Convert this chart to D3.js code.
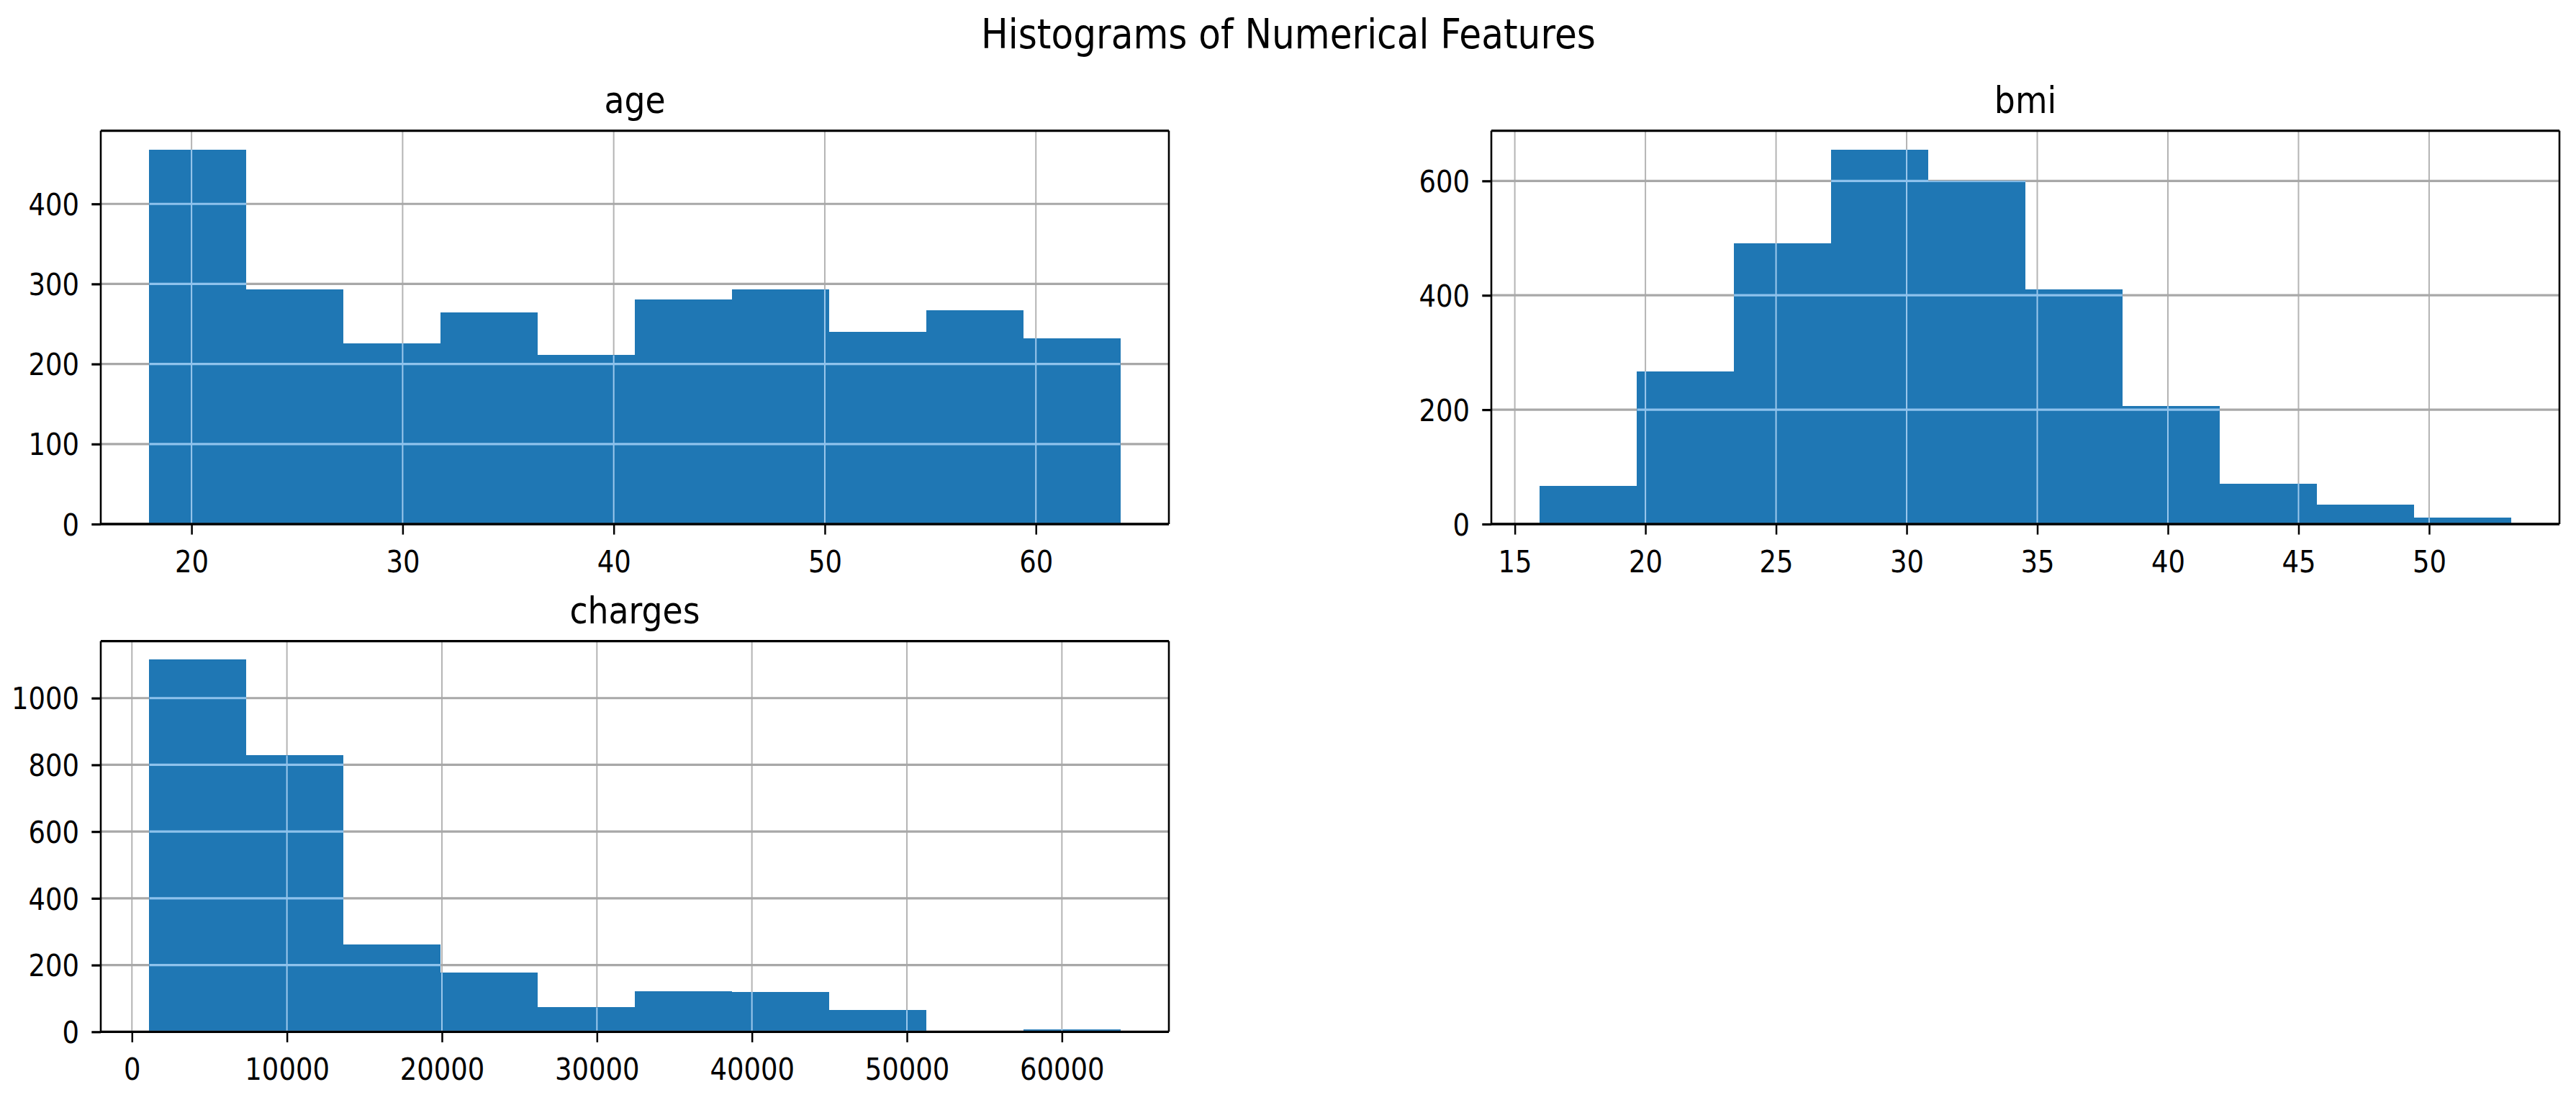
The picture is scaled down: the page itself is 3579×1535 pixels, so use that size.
<!DOCTYPE html>
<html>
<head>
<meta charset="utf-8">
<script src="https://cdn.jsdelivr.net/npm/d3@7"></script>
<style>
  body { margin: 0; background: #fff; }
  text { font-family: "DejaVu Sans", sans-serif; fill: #000; }
</style>
</head>
<body>
<script>
// histogram bin edges and counts
var ageEdges = [18, 22.6, 27.2, 31.8, 36.4, 41, 45.6, 50.2, 54.8, 59.4, 64];
var ageCounts = [468, 293, 226, 264, 211, 281, 293, 240, 267, 232];

var bmiEdges = [15.96, 19.68, 23.39, 27.11, 30.83, 34.55, 38.26, 41.98, 45.70, 49.41, 53.13];
var bmiCounts = [67, 267, 491, 655, 600, 410, 206, 71, 34, 11];

var chargesEdges = [1122, 7387, 13652, 19916, 26181, 32446, 38711, 44976, 51241, 57506, 63770];
var chargesCounts = [1115, 828, 262, 177, 73, 121, 120, 65, 0, 8];

// tick values
var ageXTicks = [20, 30, 40, 50, 60];
var ageYTicks = [0, 100, 200, 300, 400];
var bmiXTicks = [15, 20, 25, 30, 35, 40, 45, 50];
var bmiYTicks = [0, 200, 400, 600];
var chargesXTicks = [0, 10000, 20000, 30000, 40000, 50000, 60000];
var chargesYTicks = [0, 200, 400, 600, 800, 1000];

var W = 3579, H = 1535;
var SX = 0.88;   // the original picture is squeezed horizontally

var panels = [
    {name: 'age', edges: ageEdges, counts: ageCounts, xTicks: ageXTicks, yTicks: ageYTicks,
     left: 140, top: 181.6, width: 1484, height: 546.4},
    {name: 'bmi', edges: bmiEdges, counts: bmiCounts, xTicks: bmiXTicks, yTicks: bmiYTicks,
     left: 2072, top: 181.6, width: 1484, height: 546.4},
    {name: 'charges', edges: chargesEdges, counts: chargesCounts, xTicks: chargesXTicks, yTicks: chargesYTicks,
     left: 140, top: 890.6, width: 1484, height: 542.7}
];

var svg = d3.select('body')
    .append('svg')
    .attr('width', W)
    .attr('height', H);

svg.append('rect')
    .attr('width', W)
    .attr('height', H)
    .attr('fill', '#fff');

function label(parent, x, y, txt, size) {
    parent.append('g')
        .attr('transform', 'translate(' + x + ',' + y + ') scale(' + SX + ',1)')
        .append('text')
        .attr('text-anchor', 'middle')
        .style('font-size', size + 'px')
        .text(txt);
}

label(svg, 1790, 67, 'Histograms of Numerical Features', 57);

panels.forEach(function(p, k) {
    var lo = p.edges[0], hi = p.edges[p.edges.length - 1];
    var pad = (hi - lo) * 0.05;
    var x = d3.scaleLinear()
        .domain([lo - pad, hi + pad])
        .range([0, p.width]);
    var y = d3.scaleLinear()
        .domain([0, d3.max(p.counts) * 1.05])
        .range([p.height, 0]);

    var bins = p.counts.map(function(c, i) {
        return {x0: p.edges[i], x1: p.edges[i + 1], n: c};
    });

    var g = svg.append('g')
        .attr('transform', 'translate(' + p.left + ',' + p.top + ')');

    function grid(sel, vColor, hColor) {
        sel.selectAll('line.v')
            .data(p.xTicks)
            .enter().append('line')
            .attr('class', 'v')
            .attr('x1', function(d) { return x(d); })
            .attr('x2', function(d) { return x(d); })
            .attr('y1', 0)
            .attr('y2', p.height)
            .attr('stroke', vColor)
            .attr('stroke-width', 2);
        sel.selectAll('line.h')
            .data(p.yTicks)
            .enter().append('line')
            .attr('class', 'h')
            .attr('x1', 0)
            .attr('x2', p.width)
            .attr('y1', function(d) { return y(d); })
            .attr('y2', function(d) { return y(d); })
            .attr('stroke', hColor)
            .attr('stroke-width', 3.2);
    }

    grid(g.append('g'), '#b4b4b4', '#a8a8a8');

    function bars(sel) {
        sel.selectAll('rect')
            .data(bins)
            .enter().append('rect')
            .attr('x', function(d) { return x(d.x0); })
            .attr('y', function(d) { return y(d.n); })
            .attr('width', function(d) { return x(d.x1) - x(d.x0); })
            .attr('height', function(d) { return p.height - y(d.n); })
            .attr('shape-rendering', 'crispEdges');
    }

    bars(g.append('g').attr('fill', '#1f77b4'));

    // grid lines seen through the bars look light blue
    var clipId = 'bars-' + k;
    bars(g.append('clipPath').attr('id', clipId));
    grid(g.append('g').attr('clip-path', 'url(#' + clipId + ')'), '#9cc8ec', '#8ec2ec');

    var x_axis = d3.axisBottom(x)
        .tickValues(p.xTicks)
        .tickSize(14.6)
        .tickFormat(d3.format('d'));
    var xg = g.append('g')
        .attr('transform', 'translate(0,' + p.height + ')')
        .call(x_axis);
    xg.select('.domain').remove();
    xg.selectAll('.tick line').attr('stroke', '#000').attr('stroke-width', 2.5);
    xg.selectAll('.tick text')
        .attr('y', 67)
        .attr('dy', 0)
        .attr('transform', 'scale(' + SX + ',1)')
        .style('font-size', '42px')
        .attr('fill', '#000');

    var y_axis = d3.axisLeft(y)
        .tickValues(p.yTicks)
        .tickSize(12.7)
        .tickFormat(d3.format('d'));
    var yg = g.append('g').call(y_axis);
    yg.select('.domain').remove();
    yg.selectAll('.tick line').attr('stroke', '#000').attr('stroke-width', 3.2);
    yg.selectAll('.tick text')
        .attr('x', -30 / SX)
        .attr('dy', '0.36em')
        .attr('transform', 'scale(' + SX + ',1)')
        .style('font-size', '42px')
        .attr('fill', '#000');

    // frame
    g.append('line').attr('x1', 0).attr('x2', p.width).attr('y1', 0).attr('y2', 0)
        .attr('stroke', '#000').attr('stroke-width', 3.3);
    g.append('line').attr('x1', 0).attr('x2', p.width).attr('y1', p.height).attr('y2', p.height)
        .attr('stroke', '#000').attr('stroke-width', 3.3);
    g.append('line').attr('x1', 0).attr('x2', 0).attr('y1', 0).attr('y2', p.height)
        .attr('stroke', '#000').attr('stroke-width', 2.6);
    g.append('line').attr('x1', p.width).attr('x2', p.width).attr('y1', 0).attr('y2', p.height)
        .attr('stroke', '#000').attr('stroke-width', 2.6);

    label(g, p.width / 2, -25, p.name, 52);
});
</script>
</body>
</html>
